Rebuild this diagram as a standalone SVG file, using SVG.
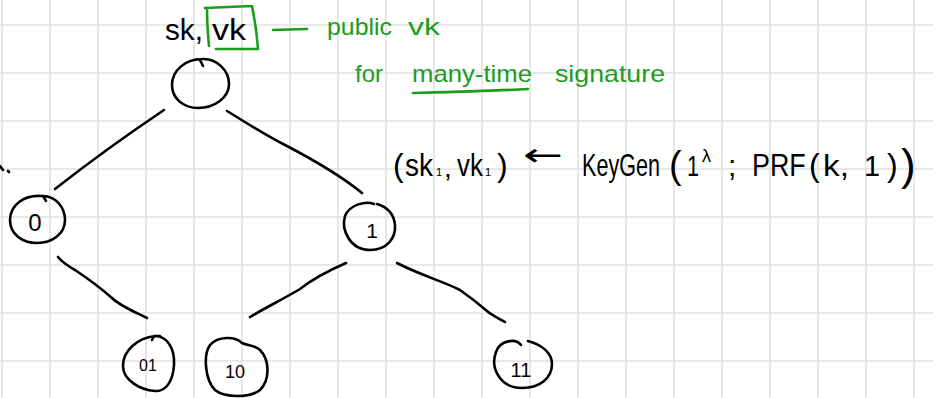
<svg xmlns="http://www.w3.org/2000/svg" width="933" height="398" viewBox="0 0 933 398">
  <style>
    .grid { stroke: #e1e1e1; stroke-width: 1.6; fill: none; }
    .ink { stroke: #000; stroke-width: 2.6; fill: none; stroke-linecap: round; stroke-linejoin: round; }
    .green { stroke: #1c9c1c; stroke-width: 2.6; fill: none; stroke-linecap: round; stroke-linejoin: round; }
    .t { font-family: "Liberation Sans", Arial, sans-serif; fill: #000; }
    .g { font-family: "Liberation Sans", Arial, sans-serif; fill: #1c9c1c; font-size: 24px; }
    .lbl { font-family: "Liberation Sans", Arial, sans-serif; fill: #000; text-anchor: middle; }
  </style>
  <rect width="933" height="398" fill="#fff"/>

  <!-- squared paper -->
  <path class="grid" d="M2,0V398 M50,0V398 M98,0V398 M146,0V398 M194,0V398 M242,0V398 M290,0V398 M338,0V398 M386,0V398 M434,0V398 M482,0V398 M530,0V398 M578,0V398 M626,0V398 M674,0V398 M722,0V398 M770,0V398 M818,0V398 M866,0V398 M914,0V398 M0,25H933 M0,73H933 M0,121H933 M0,169H933 M0,217H933 M0,265H933 M0,313H933 M0,361H933"/>

  <!-- stray mark at the left margin -->
  <path class="ink" d="M0,166 L3,170 M8,171 L9,172"/>

  <!-- tree edges -->
  <g id="connectors">
    <path class="ink" d="M164,110 Q106,149 55,189"/>
    <path class="ink" d="M227,111 C250,125 265,135 285,145 C310,158 340,175 362,193"/>
    <path class="ink" d="M58,257 C62,262 68,266 75,270 C90,280 103,290 112,298 C120,306 135,312 147,318"/>
    <path class="ink" d="M346,263 C330,270 315,277 300,289 C285,298 265,308 250,317"/>
    <path class="ink" d="M397,263 C420,275 445,282 460,290 C470,297 480,305 487,311 C493,316 500,319 505,322"/>
  </g>

  <!-- root node with its key pair -->
  <g id="root">
    <path class="ink" d="M202,59 C216,58 229,70 229,84 C229,98 214,108 198,108 C183,108 172,98 172,85 C172,70 186,59 202,59 Z M200,60 L203,66"/>
    <text class="t" x="165" y="40" font-size="30" textLength="38" lengthAdjust="spacingAndGlyphs">sk,</text>
    <text class="t" x="212" y="40" font-size="30" textLength="34" lengthAdjust="spacingAndGlyphs">vk</text>
  </g>

  <g id="node-0">
    <path class="ink" d="M41,196 C56,195 65,208 65,220 C65,234 52,243 37,243 C22,243 10,234 10,220 C10,205 24,195 41,196 Z M43,196 L46,201"/>
    <text class="lbl" x="35" y="231" font-size="24">0</text>
  </g>

  <g id="node-1">
    <path class="ink" d="M374,204 C366,201 350,204 345,216 C341,230 350,250 370,250 C387,250 396,238 395,225 C394,214 387,207 377,204"/>
    <text class="lbl" x="372" y="238" font-size="21">1</text>
  </g>

  <g id="node-01">
    <path class="ink" d="M155,336 C168,336 175,350 174,365 C173,381 166,392 155,391 C140,390 123,380 123,366 C123,350 138,338 155,336 Z M152,340 L154,336 L160,336"/>
    <text class="lbl" x="148" y="371" font-size="16">01</text>
  </g>

  <g id="node-10">
    <path class="ink" d="M242,343 C235,336 218,336 210,345 C203,355 205,380 215,390 C225,398 250,398 260,390 C270,380 270,360 260,350 C255,345 248,346 242,343 Z"/>
    <text class="lbl" x="235" y="378" font-size="18">10</text>
  </g>

  <g id="node-11">
    <path class="ink" d="M521,345 C516,338 500,340 496,352 C490,368 500,388 522,388 C540,388 552,378 552,364 C552,352 540,344 528,341"/>
    <text class="lbl" x="521" y="377" font-size="20">11</text>
  </g>

  <!-- green annotation on the public key -->
  <g id="note-public-vk">
    <path class="green" d="M205,8 L252,6 M252,6 C255,20 257,35 258,49 M216,49 L258,49 M207,9 C207,22 208,35 209,46"/>
    <path class="green" d="M273,30 L307,29"/>
    <text class="g" x="327" y="35" textLength="65" lengthAdjust="spacingAndGlyphs">public</text>
    <text class="g" x="408" y="35" textLength="32" lengthAdjust="spacingAndGlyphs">vk</text>
    <text class="g" x="355" y="82" textLength="28" lengthAdjust="spacingAndGlyphs">for</text>
    <text class="g" x="412" y="82" textLength="120" lengthAdjust="spacingAndGlyphs">many-time</text>
    <text class="g" x="555" y="82" textLength="110" lengthAdjust="spacingAndGlyphs">signature</text>
    <path class="green" d="M413,93 C450,92 490,91 528,89"/>
  </g>

  <!-- key generation for node 1 -->
  <g id="keygen">
    <text class="t" x="393" y="176" font-size="32">(</text>
    <text class="t" font-size="32" transform="translate(405,176) scale(0.875,1)">sk</text>
    <text class="t" x="436" y="176" font-size="11">1</text>
    <text class="t" x="444" y="177" font-size="28">,</text>
    <text class="t" font-size="32" transform="translate(457,176) scale(0.81,1)">vk</text>
    <text class="t" x="485" y="176" font-size="11">1</text>
    <text class="t" x="497" y="176" font-size="32">)</text>
    <text x="523" y="166" font-size="32" font-family="DejaVu Sans, sans-serif" textLength="40" lengthAdjust="spacingAndGlyphs">←</text>
    <text class="t" font-size="32" transform="translate(582,176) scale(0.675,1)">KeyGen</text>
    <text class="t" x="669" y="178" font-size="38">(</text>
    <text class="t" font-size="30" transform="translate(687,176) scale(0.72,1)">1</text>
    <text class="t" x="702" y="162" font-size="18">λ</text>
    <text class="t" x="728" y="176" font-size="30">;</text>
    <text class="t" font-size="32" transform="translate(752,176) scale(0.84,1)">PRF</text>
    <text class="t" x="809" y="176" font-size="32">(</text>
    <text class="t" font-size="30" transform="translate(823,176) scale(1.11,1)">k,</text>
    <text class="t" font-size="30" transform="translate(864,176) scale(0.96,1)">1</text>
    <text class="t" x="887" y="176" font-size="32">)</text>
    <text class="t" x="901" y="180" font-size="44">)</text>
  </g>
</svg>
